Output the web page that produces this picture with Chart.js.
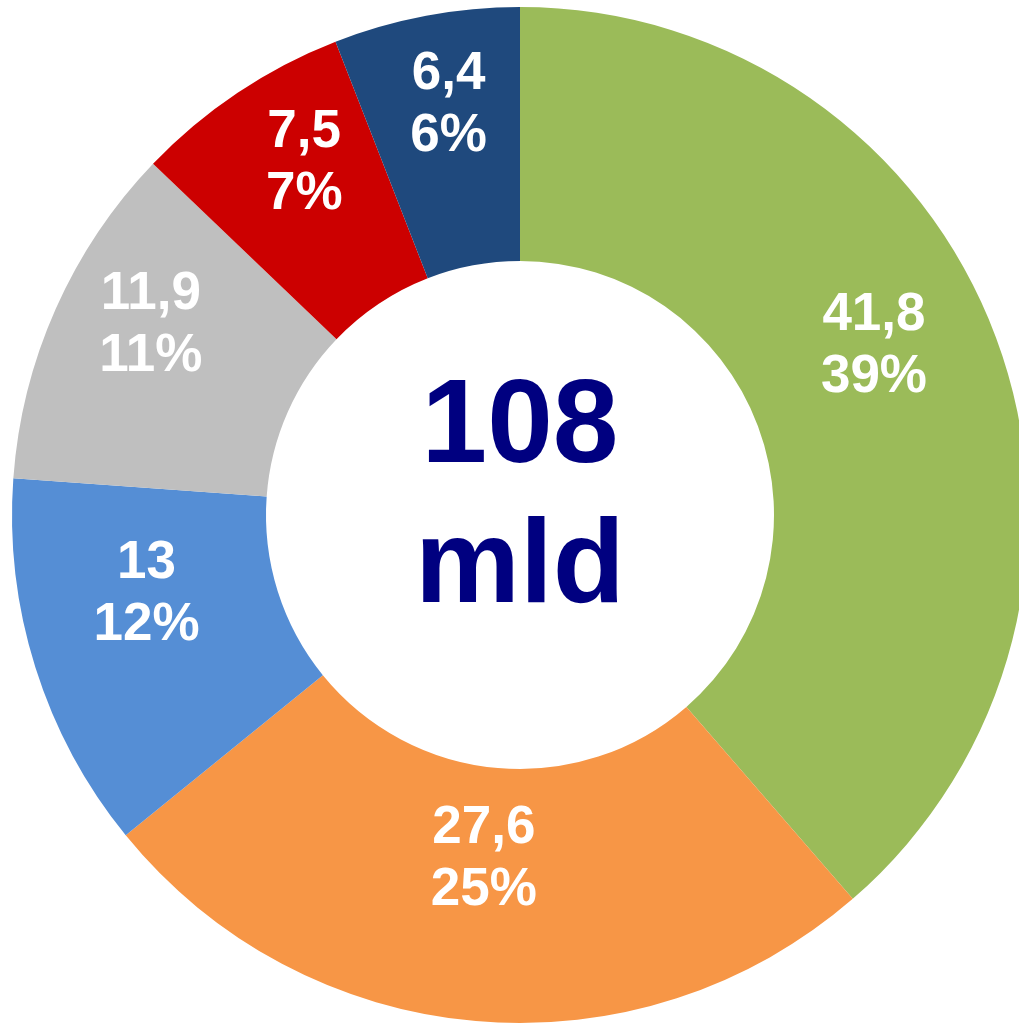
<!DOCTYPE html>
<html>
<head>
<meta charset="utf-8">
<script src="https://cdn.jsdelivr.net/npm/chart.js@4"></script>
<style>
  html, body { margin: 0; padding: 0; background: #ffffff; overflow: hidden; width: 1019px; height: 1024px; }
  #wrap { position: absolute; left: 0; top: 0; width: 1040px; height: 1030px; }
  canvas { display: block; }
</style>
</head>
<body>
<div id="wrap"><canvas id="c" width="1040" height="1030" style="width:1040px;height:1030px"></canvas></div>
<script>
const categories = ['A', 'B', 'C', 'D', 'E', 'F'];
const values = [41.8, 27.6, 13, 11.9, 7.5, 6.4];
const percentLabels = ['39%', '25%', '12%', '11%', '7%', '6%'];
const colors = ['#9BBB59', '#F79646', '#558ED5', '#BFBFBF', '#CC0000', '#1F497D'];
const centerUnit = 'mld';

const total = values.reduce((a, b) => a + b, 0);

const labelPlugin = {
  id: 'sliceLabels',
  afterDatasetsDraw(chart, args, opts) {
    const ctx = chart.ctx;
    const meta = chart.getDatasetMeta(0);
    const nudge = opts.nudgeX || [];
    ctx.save();
    ctx.fillStyle = '#ffffff';
    ctx.textAlign = 'center';
    ctx.textBaseline = 'middle';
    ctx.font = 'bold 53px "Liberation Sans", Arial, sans-serif';
    meta.data.forEach((arc, i) => {
      const p = arc.getCenterPoint();
      const dx = nudge[i] || 0;
      const valText = String(values[i]).replace('.', ',');
      ctx.fillText(valText, p.x + dx, p.y - 66);
      ctx.fillText(percentLabels[i], p.x + dx, p.y - 4);
    });
    // center text
    const cx = (chart.chartArea.left + chart.chartArea.right) / 2;
    const cy = (chart.chartArea.top + chart.chartArea.bottom) / 2;
    ctx.fillStyle = '#000080';
    ctx.textBaseline = 'alphabetic';
    ctx.font = 'bold 118px "Liberation Sans", Arial, sans-serif';
    ctx.fillText(String(Math.round(total)), cx, cy - 53);
    ctx.fillText(centerUnit, cx, cy + 87);
    ctx.restore();
  }
};

new Chart(document.getElementById('c'), {
  type: 'doughnut',
  data: {
    labels: categories,
    datasets: [{
      data: values,
      backgroundColor: colors,
      borderWidth: 0,
      hoverOffset: 0
    }]
  },
  options: {
    responsive: false,
    animation: false,
    cutout: '50%',
    layout: { padding: { left: 12, right: 12, top: 7, bottom: 7 } },
    plugins: {
      legend: { display: false },
      tooltip: { enabled: false },
      sliceLabels: { nudgeX: [-3, -3, -10, -21, -4, -1] }
    }
  },
  plugins: [labelPlugin]
});
</script>
</body>
</html>
